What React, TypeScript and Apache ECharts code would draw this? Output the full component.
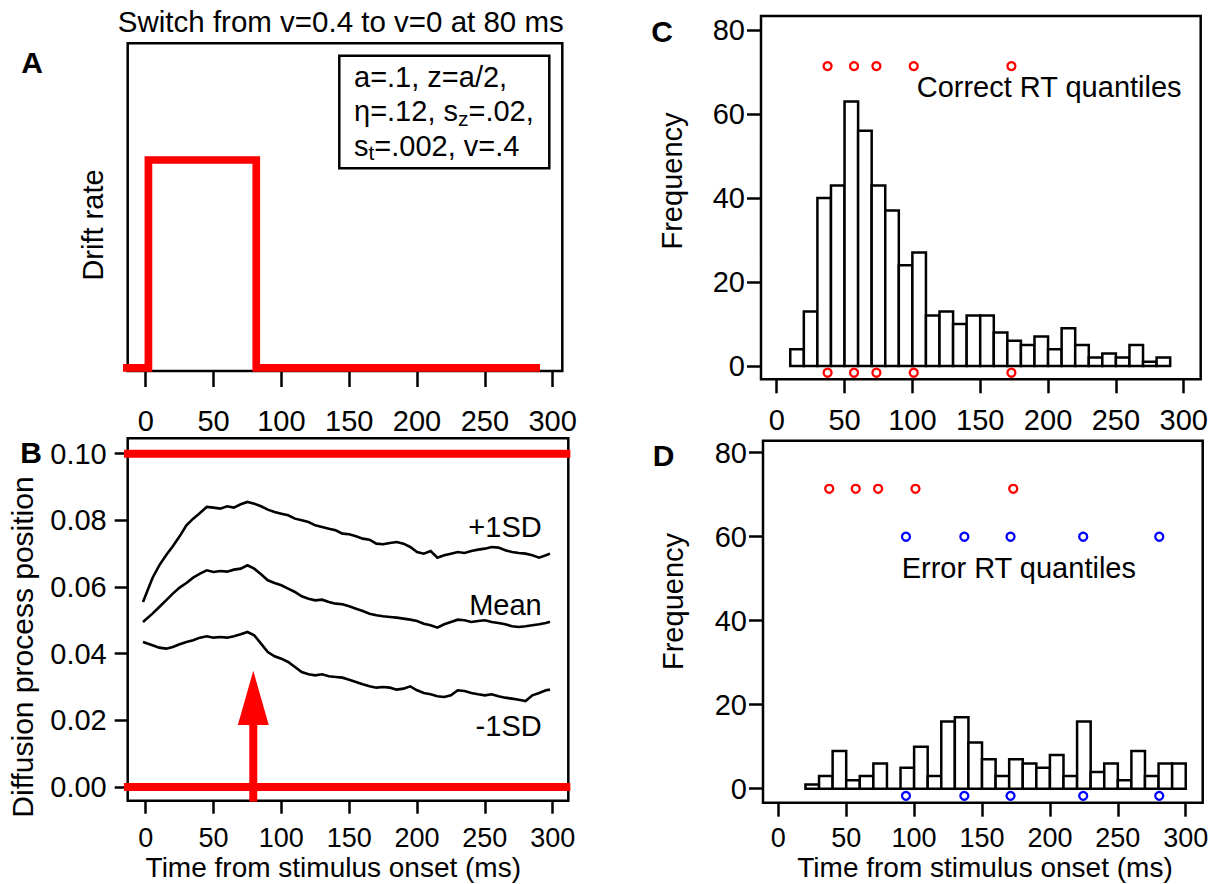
import React, { useEffect, useRef } from "react";
import * as echarts from "echarts";

const FONT = "'Liberation Sans', Arial, Helvetica, sans-serif";

// ---------- tick labels ----------
const timeTicks = [0, 50, 100, 150, 200, 250, 300];
const positionTicks = [0, 0.02, 0.04, 0.06, 0.08, 0.1];
const frequencyTicks = [0, 20, 40, 60, 80];

// ---------- Panel A: drift rate step ----------
const driftTime = [-17, 2, 2, 81.5, 81.5, 290.7];
const driftRate = [0, 0, 0.4, 0.4, 0, 0];

// ---------- Panel B: diffusion traces ----------
const boundaryTime = [-16, 313];
const upperBoundary = 0.1;
const lowerBoundary = 0;
const switchTime = 79.3;
const arrowBottom = -0.0044;
const arrowBase = 0.0186;
const arrowTip = 0.0349;
const arrowHalfWidth = 11.4;

const traceTime = [-2, 5, 10, 15, 20, 25, 30, 35, 40, 45, 50, 55, 60, 65, 70, 75, 80, 85, 90, 95, 100, 105, 110, 115, 120, 125, 130, 135, 140, 145, 150, 155, 160, 165, 170, 175, 180, 185, 190, 195, 200, 205, 210, 215, 220, 225, 230, 235, 240, 245, 250, 255, 260, 265, 270, 275, 280, 285, 290, 295, 298];
const plusSD = [0.0555, 0.0627, 0.0665, 0.0695, 0.0722, 0.0752, 0.0785, 0.0805, 0.0822, 0.084, 0.0838, 0.0835, 0.0842, 0.0838, 0.0848, 0.0855, 0.085, 0.0842, 0.0832, 0.0825, 0.082, 0.0815, 0.0805, 0.08, 0.0795, 0.0785, 0.078, 0.0775, 0.077, 0.076, 0.0758, 0.0752, 0.0745, 0.0742, 0.073, 0.0728, 0.0732, 0.0735, 0.073, 0.072, 0.0705, 0.07, 0.0708, 0.0688, 0.0695, 0.07, 0.0705, 0.0702, 0.0708, 0.0712, 0.0715, 0.072, 0.0718, 0.071, 0.0705, 0.0702, 0.07, 0.0695, 0.0688, 0.0695, 0.07];
const meanTrace = [0.0495, 0.052, 0.054, 0.056, 0.058, 0.0598, 0.0612, 0.0628, 0.064, 0.065, 0.0645, 0.0648, 0.0646, 0.0652, 0.0655, 0.0665, 0.0655, 0.0638, 0.062, 0.0612, 0.0605, 0.0595, 0.0585, 0.0572, 0.0565, 0.056, 0.0562, 0.0555, 0.055, 0.0548, 0.0542, 0.0535, 0.0528, 0.052, 0.0515, 0.0512, 0.051, 0.0508, 0.0505, 0.0502, 0.0498, 0.049, 0.0485, 0.0478, 0.0488, 0.0495, 0.0502, 0.05, 0.0495, 0.0498, 0.05, 0.0495, 0.0492, 0.0488, 0.0482, 0.048, 0.0482, 0.0485, 0.0488, 0.0492, 0.0496];
const minusSD = [0.0435, 0.0425, 0.0418, 0.0415, 0.042, 0.0428, 0.0435, 0.044, 0.0448, 0.0452, 0.0448, 0.045, 0.0448, 0.0452, 0.0458, 0.0465, 0.0455, 0.043, 0.0405, 0.0392, 0.0385, 0.0375, 0.036, 0.0345, 0.0338, 0.0335, 0.0338, 0.0332, 0.033, 0.0328, 0.0322, 0.0315, 0.0308, 0.0302, 0.0298, 0.03, 0.0298, 0.0292, 0.0295, 0.0302, 0.029, 0.0282, 0.0278, 0.0272, 0.027, 0.0275, 0.029, 0.0288, 0.0282, 0.0278, 0.0275, 0.0278, 0.0272, 0.0268, 0.0265, 0.0262, 0.0258, 0.0275, 0.0282, 0.029, 0.0292];

// ---------- Panel C: correct RT histogram ----------
const binWidth = 10;
const correctBinStart = [10, 20, 30, 40, 50, 60, 70, 80, 90, 100, 110, 120, 130, 140, 150, 160, 170, 180, 190, 200, 210, 220, 230, 240, 250, 260, 270, 280];
const correctCounts = [4, 13, 40, 43, 63, 56, 43, 37, 24, 27, 12, 13, 10, 12, 12, 8, 6, 5, 7, 4, 9, 5, 2, 3, 2, 5, 1, 2];
const correctQuantiles = [37.5, 57, 73.5, 101, 173];

// ---------- Panel D: error RT histogram ----------
const errorBinStart = [20, 30, 40, 50, 60, 70, 80, 90, 100, 110, 120, 130, 140, 150, 160, 170, 180, 190, 200, 210, 220, 230, 240, 250, 260, 270, 280, 290];
const errorCounts = [1, 3, 9, 2, 3, 6, 0, 5, 10, 3, 16, 17, 11, 7, 3, 7, 6, 5, 8, 3, 16, 4, 6, 2, 9, 3, 6, 6];
const errorQuantiles = [94, 137, 171, 224.5, 280.5];

const quantileRowCorrect = 71.4;
const quantileRowError = 60;
const quantileRowBottomC = -1.6;
const quantileRowBottomD = -1.7;

const RED = "#ff0000";
const BLUE = "#0000ff";
const TICK_FONT = 29;

function timeAxis(gridIndex: number, min: number, max: number, margin: number, tickLen: number, fontSize = TICK_FONT) {
  return {
    gridIndex,
    type: "value",
    min,
    max,
    axisLine: { show: false, onZero: false },
    splitLine: { show: false },
    axisTick: {
      show: true,
      inside: false,
      length: tickLen,
      customValues: timeTicks,
      lineStyle: { color: "#000", width: 2.5 },
    },
    axisLabel: {
      show: true,
      customValues: timeTicks,
      margin,
      color: "#000",
      fontSize,
      lineHeight: fontSize,
      fontFamily: FONT,
    },
  };
}

function freqAxis(gridIndex: number, min: number, max: number) {
  return {
    gridIndex,
    type: "value",
    min,
    max,
    axisLine: { show: false, onZero: false },
    splitLine: { show: false },
    axisTick: {
      show: true,
      inside: false,
      length: 14,
      customValues: frequencyTicks,
      lineStyle: { color: "#000", width: 2.5 },
    },
    axisLabel: {
      show: true,
      customValues: frequencyTicks,
      margin: 16,
      color: "#000",
      fontSize: TICK_FONT,
      fontFamily: FONT,
    },
  };
}

function histSeries(idx: number, starts: number[], counts: number[]) {
  return {
    type: "custom",
    xAxisIndex: idx,
    yAxisIndex: idx,
    clip: false,
    z: 2,
    data: starts.map((s, i) => [s, s + binWidth, counts[i]]),
    encode: { x: [0, 1], y: 2 },
    renderItem: (_p: any, api: any) => {
      const p0 = api.coord([api.value(0), 0]);
      const p1 = api.coord([api.value(1), api.value(2)]);
      return {
        type: "rect",
        shape: { x: p0[0], y: p1[1], width: p1[0] - p0[0], height: p0[1] - p1[1] },
        style: { fill: "#fff", stroke: "#000", lineWidth: 2.5 },
      };
    },
  };
}

function circles(idx: number, xs: number[], y: number, color: string) {
  return {
    type: "scatter",
    xAxisIndex: idx,
    yAxisIndex: idx,
    symbol: "circle",
    symbolSize: 8,
    clip: false,
    z: 5,
    itemStyle: { color: "#fff", borderColor: color, borderWidth: 2.3, opacity: 1 },
    data: xs.map((x) => [x, y]),
  };
}

function lineSeries(idx: number, xs: number[], ys: number[], color: string, width: number, z = 3) {
  return {
    type: "line",
    xAxisIndex: idx,
    yAxisIndex: idx,
    symbol: "none",
    showSymbol: false,
    clip: false,
    z,
    lineStyle: { color, width, join: "miter", cap: "butt" },
    data: xs.map((x, i) => [x, ys[i]]),
  };
}

function txt(text: string, x: number, y: number, o: any = {}) {
  return {
    type: "text",
    x,
    y,
    rotation: o.rotation || 0,
    z: 100,
    style: {
      text,
      fill: "#000",
      fontSize: o.size || 29,
      fontFamily: FONT,
      fontWeight: o.weight || "normal",
      textAlign: o.align || "center",
      textVerticalAlign: o.valign || "middle",
    },
  };
}

export default function App() {
  const ref = useRef<HTMLDivElement>(null);

  useEffect(() => {
    if (!ref.current) return;
    const chart = echarts.init(ref.current, undefined, { renderer: "svg" });
    const gridBase = {
      show: true,
      borderColor: "#000",
      borderWidth: 2.5,
      backgroundColor: "transparent",
      containLabel: false,
      outerBoundsMode: "none",
    };
    const option: any = {
      animation: false,
      textStyle: { fontFamily: FONT, color: "#000" },
      grid: [
        { ...gridBase, left: 127.7, top: 43.3, width: 434.6, height: 327.7 },
        { ...gridBase, left: 127.7, top: 438.3, width: 440.6, height: 362.4 },
        { ...gridBase, left: 761, top: 16, width: 439.7, height: 363.3 },
        { ...gridBase, left: 763, top: 440.7, width: 439.7, height: 362 },
      ],
      xAxis: [
        timeAxis(0, -13.27, 307.1, 35, 16),
        timeAxis(1, -13.27, 311.5, 23.5, 13, 27),
        timeAxis(2, -11.57, 312.5, 26, 14),
        timeAxis(3, -11.27, 312.5, 21.5, 14, 27),
      ],
      yAxis: [
        {
          gridIndex: 0,
          type: "value",
          min: -0.00616,
          max: 0.6246,
          axisLine: { show: false, onZero: false },
          axisTick: { show: false },
          axisLabel: { show: false },
          splitLine: { show: false },
        },
        {
          gridIndex: 1,
          type: "value",
          min: -0.00411,
          max: 0.1046,
          axisLine: { show: false, onZero: false },
          splitLine: { show: false },
          axisTick: {
            show: true,
            inside: false,
            length: 13,
            customValues: positionTicks,
            lineStyle: { color: "#000", width: 2.5 },
          },
          axisLabel: {
            show: true,
            customValues: positionTicks,
            margin: 21,
            color: "#000",
            fontSize: TICK_FONT,
            fontFamily: FONT,
            formatter: (v: number) => v.toFixed(2),
          },
        },
        freqAxis(2, -3.17, 83.33),
        freqAxis(3, -3.33, 82.86),
      ],
      series: [
        lineSeries(0, driftTime, driftRate, RED, 7.7),
        lineSeries(1, boundaryTime, [upperBoundary, upperBoundary], RED, 8),
        lineSeries(1, boundaryTime, [lowerBoundary, lowerBoundary], RED, 8),
        lineSeries(1, traceTime, plusSD, "#000", 2.6),
        lineSeries(1, traceTime, meanTrace, "#000", 2.6),
        lineSeries(1, traceTime, minusSD, "#000", 2.6),
        lineSeries(1, [switchTime, switchTime], [arrowBottom, arrowBase + 0.001], RED, 8, 4),
        {
          type: "custom",
          xAxisIndex: 1,
          yAxisIndex: 1,
          clip: false,
          z: 4,
          data: [[switchTime, arrowTip, arrowBase, arrowHalfWidth]],
          encode: { x: 0, y: [1, 2] },
          renderItem: (_p: any, api: any) => {
            const x = api.value(0);
            const tip = api.coord([x, api.value(1)]);
            const l = api.coord([x - api.value(3), api.value(2)]);
            const r = api.coord([x + api.value(3), api.value(2)]);
            return {
              type: "polygon",
              shape: { points: [tip, l, r] },
              style: { fill: RED, stroke: "none" },
            };
          },
        },
        histSeries(2, correctBinStart, correctCounts),
        circles(2, correctQuantiles, quantileRowCorrect, RED),
        circles(2, correctQuantiles, quantileRowBottomC, RED),
        histSeries(3, errorBinStart, errorCounts),
        circles(3, correctQuantiles, quantileRowCorrect, RED),
        circles(3, errorQuantiles, quantileRowError, BLUE),
        circles(3, errorQuantiles, quantileRowBottomD, BLUE),
      ],
      graphic: [
        txt("Switch from v=0.4 to v=0 at 80 ms", 340.8, 21, { size: 29.5 }),
        txt("A", 32, 62, { size: 30, weight: "bold" }),
        txt("B", 31, 452, { size: 30, weight: "bold" }),
        txt("C", 662, 31, { size: 30, weight: "bold" }),
        txt("D", 663.7, 455, { size: 30, weight: "bold" }),
        {
          type: "rect",
          z: 90,
          shape: { x: 339.3, y: 55.7, width: 210, height: 112.6 },
          style: { fill: "#fff", stroke: "#000", lineWidth: 2.5 },
        },
        {
          type: "text",
          x: 354,
          y: 59.5,
          z: 100,
          style: {
            text: "a=.1, z=a/2,\nη=.12, s{sub|z}=.02,\ns{sub|t}=.002, v=.4",
            fill: "#000",
            fontSize: 29,
            fontFamily: FONT,
            lineHeight: 34.5,
            textAlign: "left",
            textVerticalAlign: "top",
            rich: {
              sub: { fontSize: 21, fontFamily: FONT, fill: "#000", lineHeight: 10, verticalAlign: "bottom" },
            },
          },
        },
        txt("Drift rate", 92.5, 225, { rotation: Math.PI / 2 }),
        txt("Diffusion process position", 22.5, 647, { rotation: Math.PI / 2, size: 30 }),
        txt("Time from stimulus onset (ms)", 333.3, 867, { size: 28 }),
        txt("Time from stimulus onset (ms)", 985, 867, { size: 28 }),
        txt("Frequency", 672, 181, { rotation: Math.PI / 2 }),
        txt("Frequency", 673, 601.5, { rotation: Math.PI / 2 }),
        txt("+1SD", 541.7, 526.7, { align: "right" }),
        txt("Mean", 541.7, 605, { align: "right" }),
        txt("-1SD", 541.7, 726, { align: "right" }),
        txt("Correct RT quantiles", 916.7, 87, { align: "left" }),
        txt("Error RT quantiles", 901.7, 568, { align: "left" }),
      ],
    };
    chart.setOption(option);
    return () => chart.dispose();
  }, []);

  return (
    <div
      ref={ref}
      style={{ position: "absolute", left: 0, top: 0, width: 1228, height: 884, background: "#fff" }}
    />
  );
}
